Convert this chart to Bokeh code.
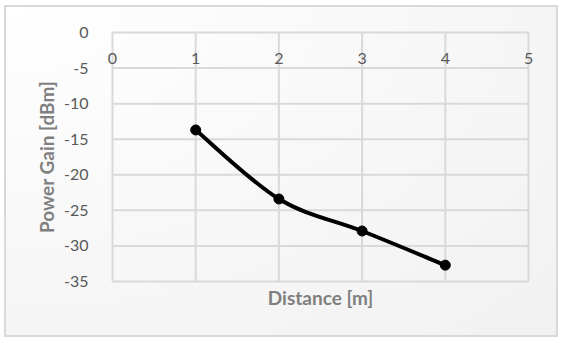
from bokeh.plotting import figure
from bokeh.models import FixedTicker, Range1d, Label
from bokeh.embed import file_html
from bokeh.resources import INLINE

# Data
distance_m = [1, 2, 3, 4]
power_gain_dbm = [-13.7, -23.4, -27.9, -32.7]
x_ticks = [0, 1, 2, 3, 4, 5]
x_tick_labels = ["0", "1", "2", "3", "4", "5"]
y_ticks = [0, -5, -10, -15, -20, -25, -30, -35]
y_tick_labels = ["0", "-5", "-10", "-15", "-20", "-25", "-30", "-35"]

FONT = "Lato"
TICK_COLOR = "#595959"
TITLE_COLOR = "#7f7f7f"
GRID_COLOR = "#d9d9d9"

x_lo, x_hi = min(x_ticks), max(x_ticks)
y_lo, y_hi = min(y_ticks), max(y_ticks)

# ranges padded slightly so that the edge labels and edge grid lines are not clipped
p = figure(width=550, height=328, output_backend="svg", toolbar_location=None,
           x_range=Range1d(x_lo - 0.12, x_hi + 0.12), y_range=Range1d(y_lo - 0.56, y_hi + 0.56),
           min_border_left=96, min_border_top=21, min_border_right=18, min_border_bottom=50,
           background_fill_color=None, border_fill_color=None)
p.margin = (7, 0, 0, 6)
p.styles = {"outline": "2px solid #d9d9d9",
            "background": "radial-gradient(farthest-corner at 0% 0%, #ffffff 0%, #f1f1f1 100%)"}
p.outline_line_color = None
p.grid.visible = False

# grid lines bounded to the data area
p.segment(x0=[x_lo] * len(y_ticks), x1=[x_hi] * len(y_ticks), y0=y_ticks, y1=y_ticks,
          line_color=GRID_COLOR, line_width=2)
p.segment(x0=x_ticks, x1=x_ticks, y0=[y_lo] * len(x_ticks), y1=[y_hi] * len(x_ticks),
          line_color=GRID_COLOR, line_width=2)

# left axis
ya = p.yaxis[0]
ya.ticker = FixedTicker(ticks=y_ticks)
ya.major_label_overrides = dict(zip(y_ticks, y_tick_labels))
ya.axis_line_color = None
ya.major_tick_line_color = None
ya.minor_tick_line_color = None
ya.major_label_text_font = FONT
ya.major_label_text_font_size = "16px"
ya.major_label_text_color = TICK_COLOR
ya.major_label_standoff = 8
ya.axis_label = "Power Gain [dBm]"
ya.axis_label_text_font = FONT
ya.axis_label_text_font_size = "19px"
ya.axis_label_text_font_style = "bold"
ya.axis_label_text_color = TITLE_COLOR
ya.axis_label_standoff = 3

# bottom axis: only the title
xa = p.xaxis[0]
xa.ticker = FixedTicker(ticks=[])
xa.axis_line_color = None
xa.major_tick_line_color = None
xa.minor_tick_line_color = None
xa.major_label_text_font_size = "0px"
xa.axis_label = "Distance [m]"
xa.axis_label_text_font = FONT
xa.axis_label_text_font_size = "19px"
xa.axis_label_text_font_style = "bold"
xa.axis_label_text_color = TITLE_COLOR
xa.axis_label_standoff = 0

# x tick labels drawn just under the y = 0 line
for xv, txt in zip(x_ticks, x_tick_labels):
    p.add_layout(Label(x=xv, y=y_hi, text=txt, x_units="data", y_units="data",
                       text_align="center", text_baseline="middle", y_offset=-26,
                       text_font=FONT, text_font_size="16px", text_color=TICK_COLOR))

# smoothed line (Catmull-Rom style Bezier through the data points)
n = len(distance_m)
x0, y0, x1, y1, cx0, cy0, cx1, cy1 = [], [], [], [], [], [], [], []
t = 1.0 / 6.0
for i in range(n - 1):
    xm = distance_m[max(i - 1, 0)]; ym = power_gain_dbm[max(i - 1, 0)]
    xa_, ya_ = distance_m[i], power_gain_dbm[i]
    xb, yb = distance_m[i + 1], power_gain_dbm[i + 1]
    xp = distance_m[min(i + 2, n - 1)]; yp = power_gain_dbm[min(i + 2, n - 1)]
    x0.append(xa_); y0.append(ya_); x1.append(xb); y1.append(yb)
    cx0.append(xa_ + (xb - xm) * t); cy0.append(ya_ + (yb - ym) * t)
    cx1.append(xb - (xp - xa_) * t); cy1.append(yb - (yp - ya_) * t)

p.bezier(x0=x0, y0=y0, x1=x1, y1=y1, cx0=cx0, cy0=cy0, cx1=cx1, cy1=cy1,
         line_color="black", line_width=4)
p.scatter(distance_m, power_gain_dbm, size=10, marker="circle",
          fill_color="black", line_color="black")

open("out.html", "w").write(file_html(p, INLINE))
